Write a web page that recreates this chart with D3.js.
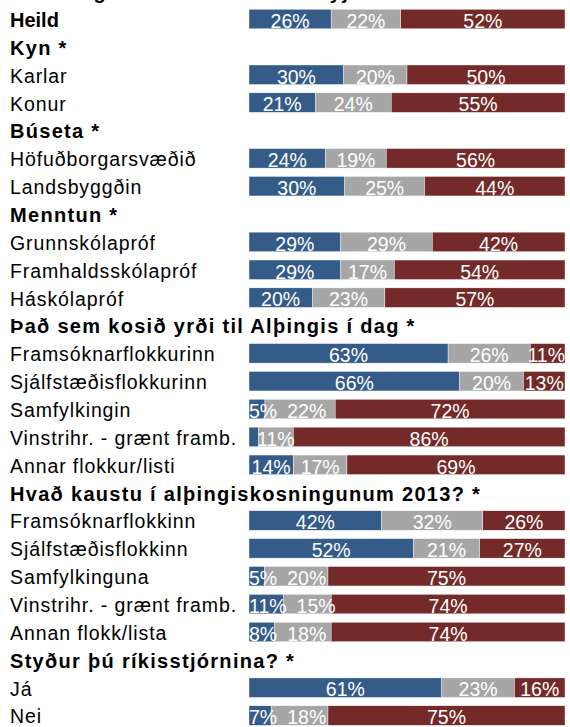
<!DOCTYPE html>
<html>
<head>
<meta charset="utf-8">
<script src="https://cdn.jsdelivr.net/npm/d3@7"></script>
<style>
  html, body { margin: 0; padding: 0; background: #fff; }
  svg { display: block; font-family: "Liberation Sans", Arial, sans-serif; }
</style>
</head>
<body>
<div id="chart"></div>
<script>
// Title row is mostly cut off at the top of the picture
const title = "Stuðningur við ákvörðunina nýju"

const categories = [
  "Heild", "Kyn *", "Karlar", "Konur",
  "Búseta *", "Höfuðborgarsvæðið", "Landsbyggðin",
  "Menntun *", "Grunnskólapróf", "Framhaldsskólapróf", "Háskólapróf",
  "Það sem kosið yrði til Alþingis í dag *",
  "Framsóknarflokkurinn", "Sjálfstæðisflokkurinn", "Samfylkingin",
  "Vinstrihr. - grænt framb.", "Annar flokkur/listi",
  "Hvað kaustu í alþingiskosningunum 2013? *",
  "Framsóknarflokkinn", "Sjálfstæðisflokkinn", "Samfylkinguna",
  "Vinstrihr. - grænt framb.", "Annan flokk/lista",
  "Styður þú ríkisstjórnina? *", "Já", "Nei"
]

// bold rows (group headings + total)
const boldRows = [
  "Heild", "Kyn *", "Búseta *", "Menntun *",
  "Það sem kosið yrði til Alþingis í dag *",
  "Hvað kaustu í alþingiskosningunum 2013? *",
  "Styður þú ríkisstjórnina? *"
]

// null = heading row with no bar
const hlynnt = [26, null, 30, 21, null, 24, 30, null, 29, 29, 20, null, 63, 66, 5, 3, 14, null, 42, 52, 5, 11, 8, null, 61, 7]
const hvorki = [22, null, 20, 24, null, 19, 25, null, 29, 17, 23, null, 26, 20, 22, 11, 17, null, 32, 21, 20, 15, 18, null, 23, 18]
const andvig = [52, null, 50, 55, null, 56, 44, null, 42, 54, 57, null, 11, 13, 72, 86, 69, null, 26, 27, 75, 74, 74, null, 16, 75]

const keys = ["hlynnt", "hvorki", "andvig"]
const colors = ["#355b88", "#a6a6a6", "#732a29"]

const width = 570
const height = 727

const svg = d3.select("#chart").append("svg")
  .attr("width", width)
  .attr("height", height)

const x = d3.scaleLinear().domain([0, 1]).range([249, 565])

const y = d3.scaleBand()
  .domain(d3.range(categories.length))
  .range([5.1, 5.1 + 27.86 * categories.length])
  .paddingInner(0.3)
  .paddingOuter(0.15)

const color = d3.scaleOrdinal().domain(keys).range(colors)

// rows with bars
const table = categories.map((c, i) => ({
  i: i, name: c, hlynnt: hlynnt[i], hvorki: hvorki[i], andvig: andvig[i]
})).filter(d => d.hlynnt !== null)

const series = d3.stack().keys(keys).offset(d3.stackOffsetExpand)(table)

// bars
svg.append("g")
  .selectAll("g")
  .data(series)
  .join("g")
  .attr("fill", s => color(s.key))
  .selectAll("rect")
  .data(s => s)
  .join("rect")
  .attr("x", d => x(d[0]))
  .attr("y", d => y(d.data.i))
  .attr("width", d => x(d[1]) - x(d[0]))
  .attr("height", y.bandwidth())
  .attr("stroke", "#fff")
  .attr("stroke-width", 0.4)

// value labels, kept inside the plot and pushed right when they crowd (like Excel)
const labels = svg.append("g")
  .attr("fill", "#fff")
  .attr("font-size", "19.5px")
  .attr("text-anchor", "middle")

table.forEach((row, r) => {
  let prevEnd = -Infinity
  series.forEach(s => {
    const d = s[r]
    const v = row[s.key]
    if (v < 4) return
    const t = labels.append("text")
      .attr("y", y(row.i) + y.bandwidth() - 1)
      .text(v + "%")
    const w = t.node().getComputedTextLength()
    let cx = Math.max(x(0) + w / 2, Math.min(x(1) - w / 2, x((d[0] + d[1]) / 2)))
    if (cx - w / 2 < prevEnd + 10) cx = prevEnd + 10 + w / 2
    cx = Math.min(x(1) - w / 2, cx)
    t.attr("x", cx)
    prevEnd = cx + w / 2
  })
})

// category labels
svg.append("g")
  .selectAll("text")
  .data(categories)
  .join("text")
  .attr("x", 10)
  .attr("y", (d, i) => y(i) + y.bandwidth() - 1.8)
  .attr("font-size", d => boldRows.includes(d) ? "20px" : "19.5px")
  .attr("font-weight", d => boldRows.includes(d) ? "bold" : "normal")
  .attr("letter-spacing", d => d === "Heild" ? 0 : (boldRows.includes(d) ? 1.3 : 0.9))
  .attr("fill", "#000")
  .text(d => d)

// clipped title above first row
svg.append("text")
  .attr("x", 10)
  .attr("y", y(0) - y.step() + y.bandwidth() - 1.8)
  .attr("font-size", "20px")
  .attr("font-weight", "bold")
  .attr("letter-spacing", 1.3)
  .text(title)
</script>
</body>
</html>
